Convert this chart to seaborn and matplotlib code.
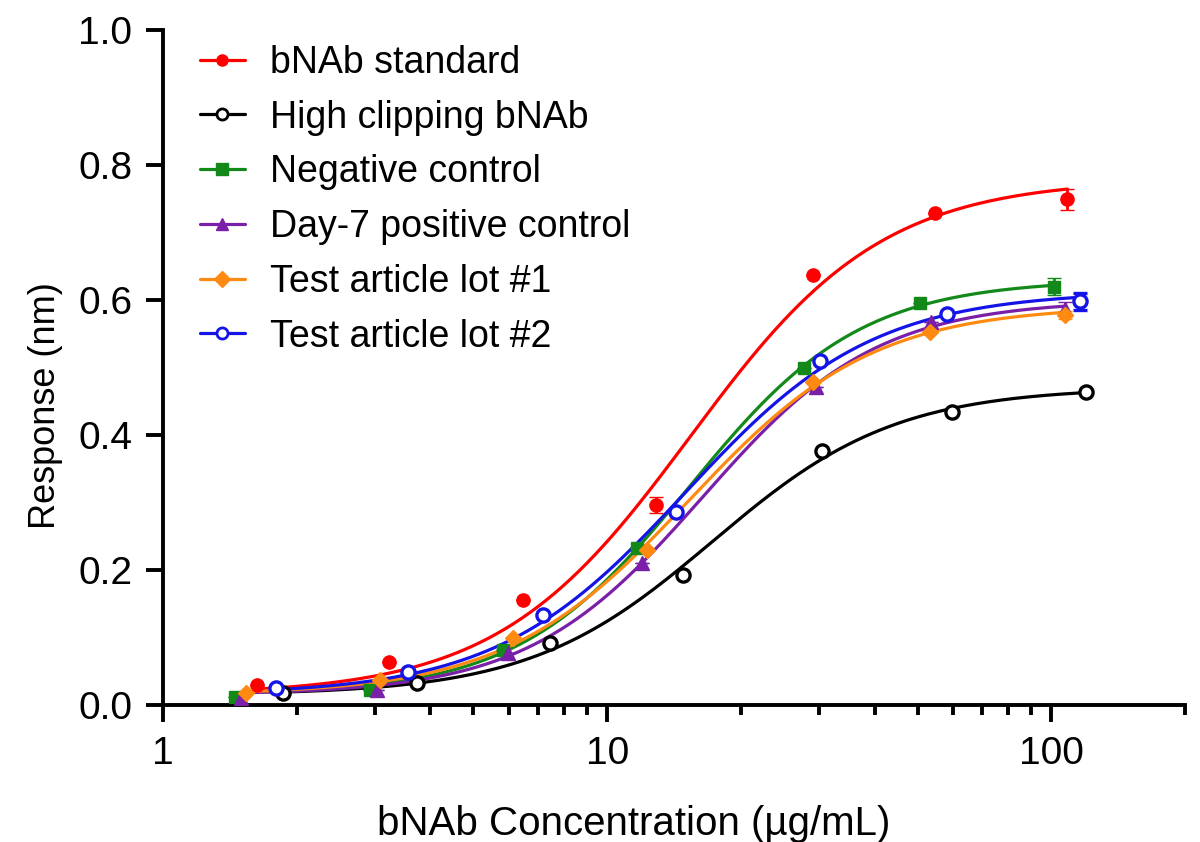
import matplotlib
matplotlib.use("Agg")
import matplotlib.pyplot as plt
from matplotlib.lines import Line2D
from matplotlib.ticker import LogLocator, FixedLocator, NullFormatter
import numpy as np
import pandas as pd
import seaborn as sns

# Data
labels = ['bNAb standard', 'High clipping bNAb', 'Negative control',
          'Day-7 positive control', 'Test article lot #1', 'Test article lot #2']

x_std = [1.63, 3.22, 6.45, 12.9, 29.0, 54.6, 108.7]
y_std = [0.030, 0.063, 0.156, 0.296, 0.637, 0.729, 0.749]
e_std = [0.0, 0.0, 0.0, 0.012, 0.0, 0.0, 0.016]

x_clip = [1.86, 3.73, 7.43, 14.8, 30.5, 59.9, 120.0]
y_clip = [0.018, 0.033, 0.092, 0.193, 0.376, 0.434, 0.463]
e_clip = [0.0, 0.0, 0.0, 0.0, 0.0, 0.0, 0.0]

x_neg = [1.45, 2.92, 5.82, 11.65, 27.7, 50.5, 101.6]
y_neg = [0.012, 0.022, 0.081, 0.232, 0.500, 0.595, 0.620]
e_neg = [0.0, 0.0, 0.0, 0.0, 0.0, 0.0, 0.012]

x_pos = [1.50, 3.03, 5.98, 11.96, 29.5, 53.7, 107.5]
y_pos = [0.010, 0.022, 0.077, 0.210, 0.471, 0.567, 0.587]
e_pos = [0.0, 0.0, 0.0, 0.0, 0.0, 0.0, 0.010]

x_lot1 = [1.54, 3.08, 6.13, 12.3, 29.1, 53.2, 107.5]
y_lot1 = [0.018, 0.037, 0.099, 0.230, 0.478, 0.553, 0.578]
e_lot1 = [0.0, 0.0, 0.0, 0.0, 0.0, 0.0, 0.006]

x_lot2 = [1.80, 3.56, 7.16, 14.3, 30.1, 58.3, 116.0]
y_lot2 = [0.025, 0.049, 0.133, 0.286, 0.510, 0.579, 0.598]
e_lot2 = [0.0, 0.0, 0.0, 0.0, 0.0, 0.0, 0.013]

colors = ['#ff0000', '#000000', '#13891a', '#7a1fa8', '#ff8a12', '#1414e6']
markers = ['o', 'o', 's', '^', 'D', 'o']
filled = [True, False, True, True, True, False]

# baseline shared by the fitted curves
CURVE_BOTTOM = 0.015

series = [(x_std, y_std, e_std), (x_clip, y_clip, e_clip), (x_neg, y_neg, e_neg),
          (x_pos, y_pos, e_pos), (x_lot1, y_lot1, e_lot1), (x_lot2, y_lot2, e_lot2)]


def logistic(p, lx):
    # 4PL with the bottom held fixed
    top, logec50, hill = p
    return CURVE_BOTTOM + (top - CURVE_BOTTOM) / (1 + 10 ** ((logec50 - lx) * hill))


def fit_curve(x, y):
    """Small Levenberg-Marquardt fit of the logistic curve."""
    lx = np.log10(x)
    p = np.array([max(y) * 1.05, np.log10(np.median(x) * 1.5), 1.5])
    n = len(p)
    lam = 1e-3
    for _ in range(300):
        r = y - logistic(p, lx)
        J = np.empty((len(x), n))
        for k in range(n):
            dp = np.zeros(n)
            dp[k] = 1e-6
            J[:, k] = (logistic(p + dp, lx) - logistic(p - dp, lx)) / 2e-6
        A = J.T @ J
        g = J.T @ r
        step = np.linalg.solve(A + lam * np.diag(np.diag(A)) + 1e-12 * np.eye(n), g)
        pn = p + step
        if np.sum((y - logistic(pn, lx)) ** 2) < np.sum(r ** 2):
            p = pn
            lam *= 0.3
        else:
            lam *= 10
    return p


# fitted curves as a long table for seaborn
curve_rows = []
for lab, (xs, ys, es) in zip(labels, series):
    xs = np.array(xs)
    ys = np.array(ys)
    p = fit_curve(xs, ys)
    xx = np.logspace(np.log10(xs.min()), np.log10(xs.max()), 200)
    for a, b in zip(xx, logistic(p, np.log10(xx))):
        curve_rows.append((lab, a, b))
curves = pd.DataFrame(curve_rows, columns=['series', 'conc', 'resp'])

sns.set_style('ticks')
plt.rcParams['font.family'] = ['Liberation Sans', 'DejaVu Sans']
plt.rcParams['text.color'] = 'black'
plt.rcParams['axes.labelcolor'] = 'black'
plt.rcParams['xtick.color'] = 'black'
plt.rcParams['ytick.color'] = 'black'
plt.rcParams['axes.edgecolor'] = 'black'

fig = plt.figure(figsize=(12, 8.42), dpi=100)
ax = fig.add_axes([163 / 1200, 1 - 705 / 842, 1022 / 1200, 675 / 842])

sns.lineplot(data=curves, x='conc', y='resp', hue='series', hue_order=labels,
             palette=colors, linewidth=2.3, legend=False, ax=ax, zorder=2)

for lab, (xs, ys, es), c, m, f in zip(labels, series, colors, markers, filled):
    ms = {'o': 9.5, 's': 9, 'D': 8.5, '^': 10}[m]
    ax.errorbar(xs, ys, yerr=es, fmt=m, color=c, ms=ms,
                mfc=c if f else 'white', mec=c, mew=2.4 if not f else 1,
                elinewidth=2, capsize=5, capthick=2, zorder=3)

ax.set_xscale('log')
ax.set_xlim(1, 200)
ax.set_ylim(0, 1.0)
ax.set_yticks([0.0, 0.2, 0.4, 0.6, 0.8, 1.0])
ax.set_yticklabels(['0.0', '0.2', '0.4', '0.6', '0.8', '1.0'])
ax.xaxis.set_major_locator(FixedLocator([1, 10, 100]))
ax.set_xticklabels(['1', '10', '100'])
ax.xaxis.set_minor_locator(LogLocator(base=10, subs=np.arange(2, 10), numticks=20))
ax.xaxis.set_minor_formatter(NullFormatter())

sns.despine(ax=ax)
for s in ['left', 'bottom']:
    ax.spines[s].set_linewidth(2.8)
ax.tick_params(axis='both', which='major', length=12, width=2.8, labelsize=28, pad=10)
ax.tick_params(axis='x', which='minor', length=7, width=2.8)

ax.set_xlabel('bNAb Concentration (µg/mL)', fontsize=29)
ax.set_ylabel('Response (nm)', fontsize=26)
ax.xaxis.set_label_coords(0.461, -0.148)
ax.yaxis.set_label_coords(-0.098, 0.443)

handles = [Line2D([0], [0], color=c, lw=2.3, marker=m, ms=8,
                  mfc=c if f else 'white', mec=c, mew=2 if not f else 1)
           for c, m, f in zip(colors, markers, filled)]
ax.legend(handles, labels, loc='upper left', bbox_to_anchor=(0.036, 0.978),
          frameon=False, fontsize=27, handlelength=1.2, handletextpad=0.67,
          labelspacing=0.5, borderaxespad=0, borderpad=0)

fig.savefig('out.png', dpi=100)
